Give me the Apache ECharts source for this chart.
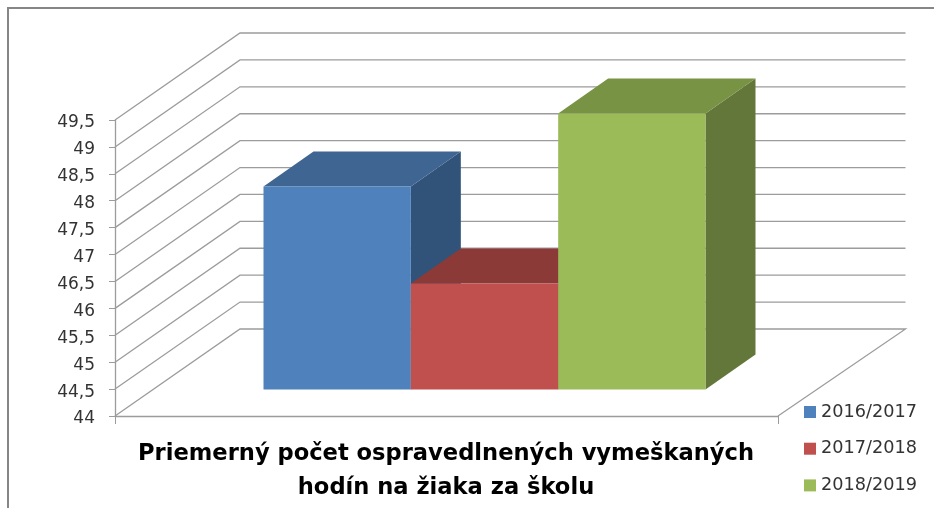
<!DOCTYPE html>
<html>
<head>
<meta charset="utf-8">
<title>Priemerný počet ospravedlnených vymeškaných hodín</title>
<script src="https://cdn.jsdelivr.net/npm/echarts@6/dist/echarts.min.js"></script>
<style>
  html, body { margin: 0; padding: 0; background: #fff; }
  #chart { width: 934px; height: 508px; }
</style>
</head>
<body>
<div id="chart"></div>
<script>
const categories = ['Škola'];
const years = ['2016/2017', '2017/2018', '2018/2019'];
const values = [47.77, 45.97, 49.13];
const yTicks = [44, 44.5, 45, 45.5, 46, 46.5, 47, 47.5, 48, 48.5, 49, 49.5];
const frontColors = ['#4F81BD', '#C0504D', '#9BBB59'];
const topColors = ['#3F6592', '#8C3A38', '#789343'];
const sideColors = ['#31537A', '#8C3A38', '#64773A'];

// 3d look: how far the walls go back, and where in that depth the bars stand
const wallDepth = [125, -87];
const wallRightExtra = 2.5;
const barStart = [38, -26.5];
const barDepth = [50, -35];
const gridColor = '#9c9c9c';
const font = '"DejaVu Sans", sans-serif';

const chart = echarts.init(document.getElementById('chart'));

function renderWall(params, api) {
  const box = params.coordSys;
  const y = api.coord([0, api.value(1)])[1];
  const x0 = box.x;
  const x1 = box.x + box.width;
  const points = [
    [x0, y],
    [x0 + wallDepth[0], y + wallDepth[1]],
    [x1 + wallDepth[0] + wallRightExtra, y + wallDepth[1]]
  ];
  // the bottom line also closes the floor on the right
  if (api.value(1) === yTicks[0]) points.push([x1, y]);
  return {
    type: 'polyline',
    shape: { points: points },
    style: { stroke: gridColor, lineWidth: 1.3, fill: null }
  };
}

function renderBar(index) {
  return function (params, api) {
    const box = params.coordSys;
    const barWidth = box.width / 4.5; // gap width 150%
    const x0 = box.x + barWidth * (0.75 + index) + barStart[0];
    const x1 = x0 + barWidth;
    const top = api.coord([0, api.value(1)])[1] + barStart[1];
    const base = api.coord([0, yTicks[0]])[1] + barStart[1];
    const dx = barDepth[0];
    const dy = barDepth[1];
    return {
      type: 'group',
      children: [
        { type: 'polygon', shape: { points: [[x1, top], [x1 + dx, top + dy], [x1 + dx, base + dy], [x1, base]] }, style: { fill: sideColors[index] } },
        { type: 'polygon', shape: { points: [[x0, top], [x0 + dx, top + dy], [x1 + dx, top + dy], [x1, top]] }, style: { fill: topColors[index] } },
        { type: 'polygon', shape: { points: [[x0, top], [x1, top], [x1, base], [x0, base]] }, style: { fill: frontColors[index] } }
      ]
    };
  };
}

const barSeries = years.map((year, i) => ({
  name: year,
  type: 'custom',
  renderItem: renderBar(i),
  itemStyle: { color: frontColors[i] },
  encode: { x: 0, y: 1 },
  data: [[0, values[i]]]
}));

chart.setOption({
  animation: false,
  backgroundColor: '#fff',
  color: frontColors,
  title: {
    text: 'Priemerný počet ospravedlnených vymeškaných\nhodín na žiaka za školu',
    left: 441,
    top: 432,
    textAlign: 'center',
    textStyle: { fontFamily: font, fontSize: 22.6, fontWeight: 'bold', color: '#000', lineHeight: 34 }
  },
  legend: {
    orient: 'vertical',
    left: 799,
    top: 398,
    icon: 'rect',
    itemWidth: 12,
    itemHeight: 12,
    itemGap: 18.7,
    textStyle: { fontFamily: font, fontSize: 17.7, color: '#333' },
    data: years
  },
  grid: { left: 115, top: 120, width: 663, height: 296 },
  xAxis: {
    type: 'category',
    data: categories,
    axisLine: { lineStyle: { color: gridColor, width: 1.3 } },
    axisTick: { show: true, length: 8, lineStyle: { color: gridColor } },
    axisLabel: { show: false }
  },
  yAxis: {
    type: 'value',
    min: 44,
    max: 49.5,
    interval: 0.5,
    axisLine: { show: true, lineStyle: { color: gridColor, width: 1.3 } },
    axisTick: { show: true, length: 6, lineStyle: { color: gridColor } },
    splitLine: { show: false },
    axisLabel: {
      margin: 20,
      verticalAlign: 'top',
      lineHeight: 6,
      fontFamily: font,
      fontSize: 17,
      color: '#333',
      formatter: v => String(v).replace('.', ',')
    }
  },
  graphic: [{
    type: 'polyline',
    shape: { points: [[8, 508], [8, 8], [934, 8]] },
    style: { stroke: '#868686', lineWidth: 2, fill: null },
    silent: true
  }],
  series: [{
    name: 'steny',
    type: 'custom',
    renderItem: renderWall,
    encode: { x: 0, y: 1 },
    silent: true,
    data: yTicks.map(v => [0, v])
  }].concat(barSeries)
});
</script>
</body>
</html>
